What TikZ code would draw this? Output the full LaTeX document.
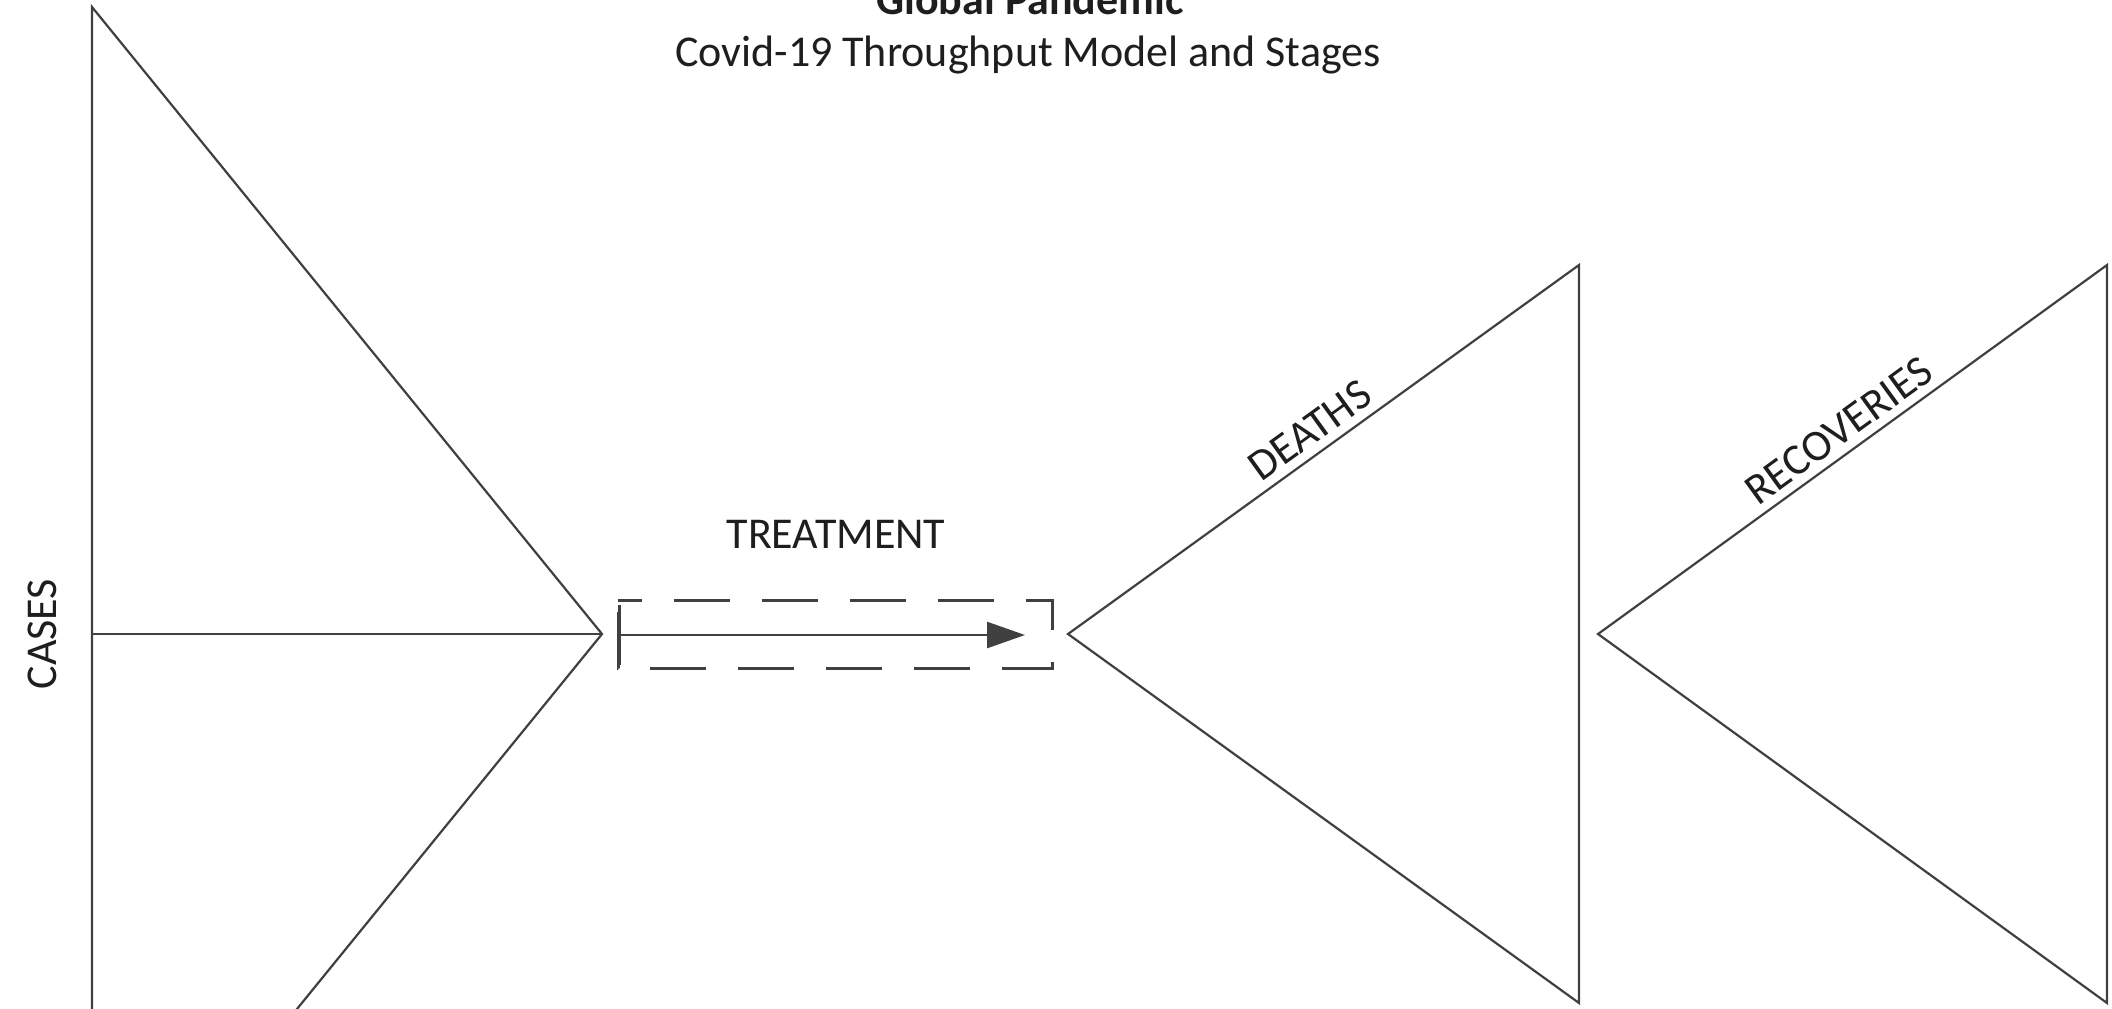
\documentclass[tikz,border=0pt]{standalone}
\usepackage{fontspec}
\setmainfont{Carlito}
\usetikzlibrary{arrows.meta}
\definecolor{linec}{HTML}{404040}
\definecolor{textc}{HTML}{1E1E1E}
\begin{document}
\begin{tikzpicture}[x=0.5pt,y=-0.5pt,
  shapeline/.style={draw=linec, line width=1.1pt, line join=miter},
  lbl/.style={text=textc, font=\fontsize{22}{26}\selectfont, inner sep=0pt},
  edgelbl/.style={text=textc, font=\fontsize{22}{26}\selectfont, sloped, above, inner sep=4pt}]
\useasboundingbox (0,0) rectangle (2112,1008);
\clip (0,0) rectangle (2112,1008);
\fill[white] (0,0) rectangle (2112,1008);

% CASES triangle
\coordinate (ct) at (92,7);
\coordinate (ca) at (602,634);
\coordinate (cb) at (92,1261);
\coordinate (cm) at (92,634);
\draw[shapeline] (ct) -- (ca) -- (cb) -- cycle;
\draw[shapeline] (cm) -- (ca);

% DEATHS triangle
\coordinate (da) at (1068,634);
\coordinate (dt) at (1579,265);
\coordinate (db) at (1579,1003);
\draw[shapeline] (da) -- node[edgelbl] (dl) {DEATHS} (dt) -- (db) -- cycle;

% RECOVERIES triangle
\coordinate (ra) at (1598,634);
\coordinate (rt) at (2107,265);
\coordinate (rb) at (2107,1003);
\draw[shapeline] (ra) -- node[edgelbl] (rl) {RECOVERIES} (rt) -- (rb) -- cycle;

% treatment box
\coordinate (b1) at (618,600);
\coordinate (b2) at (1052,600);
\coordinate (b3) at (1052,668);
\coordinate (b4) at (618,668);
\draw[draw=linec, line width=1.5pt, dash pattern=on 28pt off 16pt, dash phase=16pt]
  (b1) -- (b2) -- (b3) -- (b4) -- cycle;
\coordinate (as) at (618,635);
\coordinate (ae) at (1025,635);
\draw[draw=linec, line width=1.3pt, {Bar[width=30pt, line width=1.5pt]}-{Triangle[length=19pt, width=13pt]}] (as) -- (ae);

% texts
\node[lbl, font={\fontsize{22}{26}\selectfont\bfseries}, anchor=base] (t1) at (1030,14) {Global Pandemic};
\node[lbl, anchor=base] (t2) at (1028,66) {Covid-19 Throughput Model and Stages};
\node[lbl, anchor=base] (tr) at (836,548) {TREATMENT};
\node[lbl, rotate=90] (cs) at (42,634) {CASES};
\end{tikzpicture}
\end{document}
